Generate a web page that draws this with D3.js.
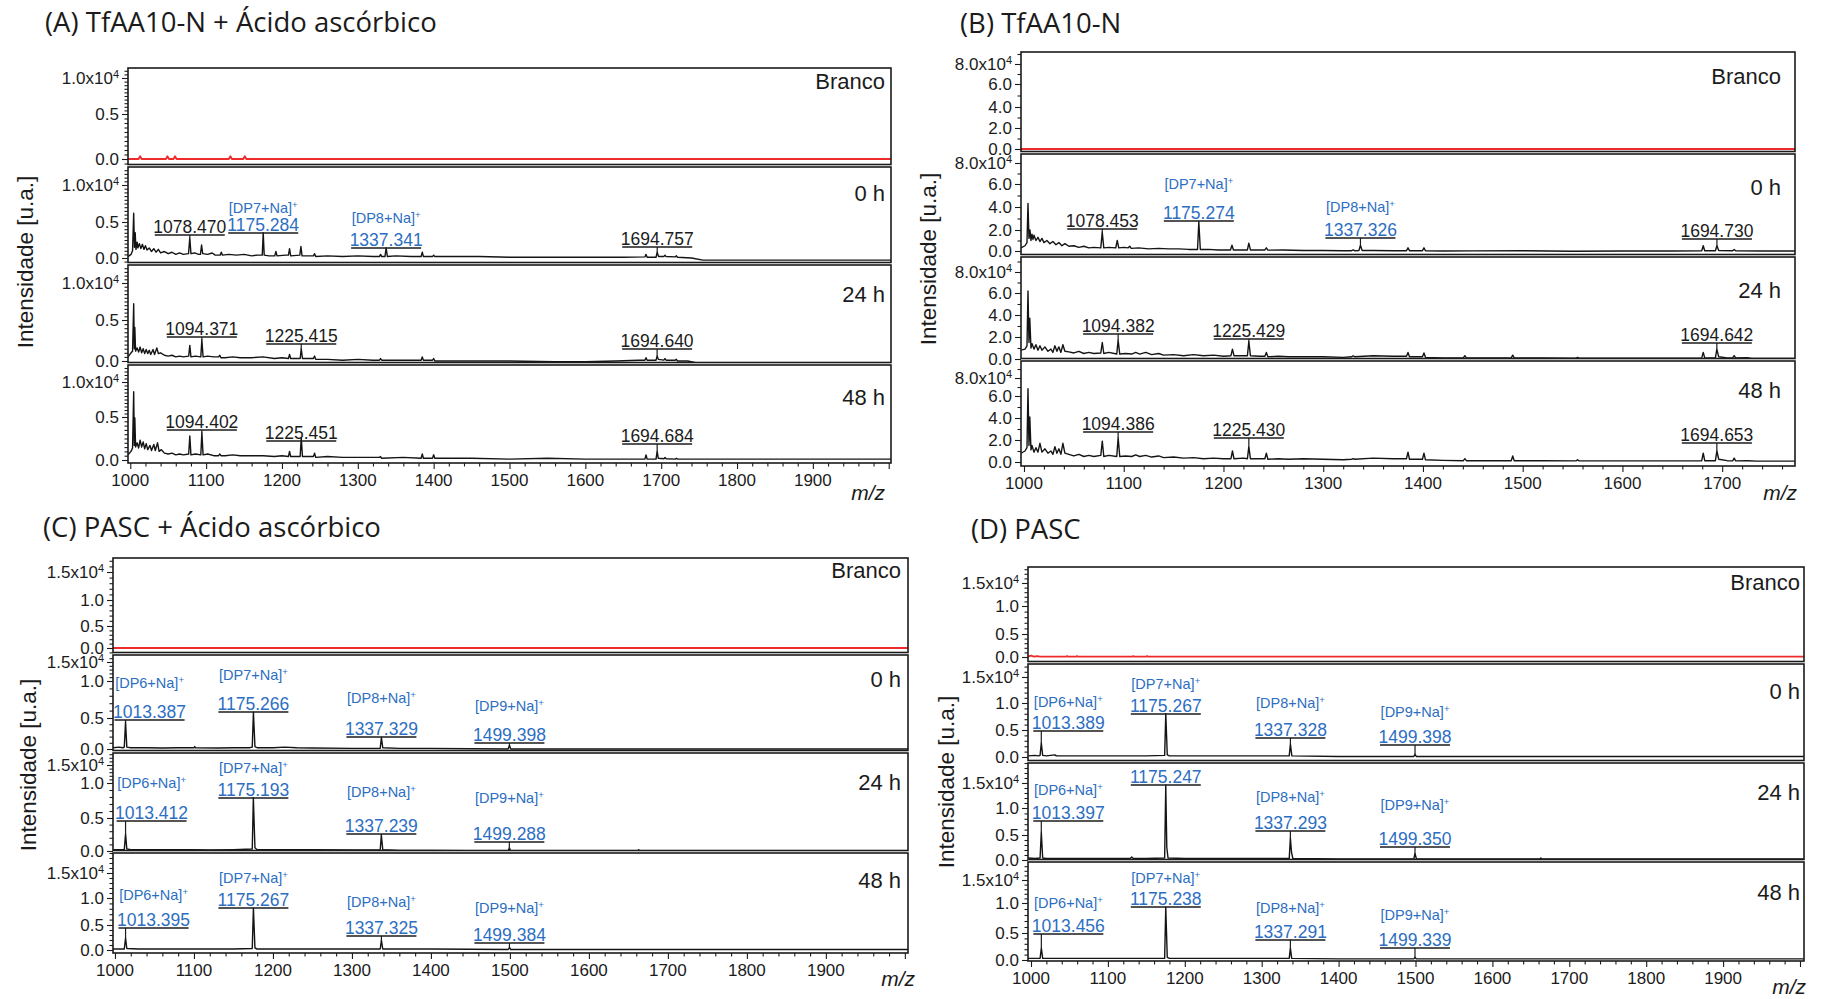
<!DOCTYPE html>
<html>
<head>
<meta charset="utf-8">
<script src="https://cdn.jsdelivr.net/npm/d3@7"></script>
<style>
  html, body { margin: 0; padding: 0; background: #ffffff; }
  svg { display: block; }
</style>
</head>
<body>
<svg id="fig" width="1823" height="999"></svg>
<script>
// ---------------------------------------------------------------
// Data: MALDI-TOF spectra (m/z, intensity in units of 10^4)
// ---------------------------------------------------------------
const sampleNames = ["Branco", "0 h", "24 h", "48 h"];

const titleA = "(A) TfAA10-N + Ácido ascórbico";
const titleB = "(B) TfAA10-N";
const titleC = "(C) PASC + Ácido ascórbico";
const titleD = "(D) PASC";

const yAxisTitle = "Intensidade [u.a.]";
const xAxisTitle = "m/z";

// tick values / tick texts
const xTicksWide = [1000, 1100, 1200, 1300, 1400, 1500, 1600, 1700, 1800, 1900, 2000];
const xTicksNarrow = [1000, 1100, 1200, 1300, 1400, 1500, 1600, 1700];
const yTicksA = [0, 0.5, 1.0];
const yTickTextA = ["0.0", "0.5", "1.0x10"];
const yTicksB = [0, 2, 4, 6, 8];
const yTickTextB = ["0.0", "2.0", "4.0", "6.0", "8.0x10"];
const yTicksCD = [0, 0.5, 1.0, 1.5];
const yTickTextCD = ["0.0", "0.5", "1.0", "1.5x10"];
const yExponent = "4";

// ---- (A) TfAA10-N + ascorbic acid
const specA_branco = [[997,0],[1011,0],[1013,0.03],[1015,0],[1047,0],[1049,0.03],[1051,0],[1057,0],[1059,0.03],[1061,0],[1130,0],[1132,0.03],[1134,0],[1149,0],[1151,0.03],[1153,0],[2003,0]];
const specA_0h = [[997,0.02],[1001,0.05],[1003,0.1],[1004.5,0.62],[1005.5,0.15],[1006.5,0.35],[1007.5,0.12],[1009,0.22],[1010,0.14],[1012,0.2],[1014,0.13],[1016,0.19],[1018,0.12],[1020,0.17],[1022,0.11],[1025,0.14],[1028,0.09],[1031,0.13],[1034,0.08],[1037,0.12],[1040,0.07],[1045,0.09],[1050,0.06],[1055,0.08],[1060,0.05],[1065,0.07],[1070,0.05],[1076.8,0.06],[1078.470,0.28],[1080,0.06],[1085,0.07],[1090,0.05],[1092.5,0.05],[1094,0.18],[1095.5,0.06],[1102,0.05],[1108,0.07],[1112,0.04],[1118.5,0.04],[1120,0.08],[1121.5,0.04],[1130,0.05],[1140,0.04],[1150,0.05],[1160,0.03],[1168,0.04],[1174,0.04],[1175.284,0.35],[1176.6,0.04],[1183,0.03],[1190.5,0.03],[1192,0.09],[1193.5,0.03],[1205,0.04],[1208.5,0.04],[1210,0.13],[1211.5,0.03],[1223.5,0.04],[1225,0.16],[1226.5,0.03],[1235,0.03],[1241.5,0.03],[1243,0.06],[1244.5,0.02],[1260,0.03],[1280,0.02],[1300,0.03],[1320,0.02],[1328.5,0.02],[1330,0.05],[1331.5,0.02],[1335.8,0.02],[1337.341,0.14],[1339,0.02],[1350,0.03],[1370,0.02],[1383.5,0.02],[1385,0.08],[1386.5,0.02],[1398.5,0.02],[1400,0.04],[1401.5,0.02],[1430,0.02],[1460,0.02],[1500,0.01],[1550,0.01],[1600,0.01],[1650,0.01],[1678.5,0.015],[1680,0.05],[1681.5,0.01],[1693.2,0.01],[1694.757,0.08],[1696.5,0.02],[1703.5,0.02],[1705,0.04],[1706.5,0.02],[1718.5,0.015],[1720,0.03],[1721.5,0.01],[1740,0.0],[1755,-0.03],[2003,-0.03]];
const specA_24h = [[997,0.05],[1001,0.1],[1003,0.12],[1004.5,0.72],[1005.3,0.15],[1006,0.41],[1007,0.12],[1009,0.16],[1011,0.11],[1013,0.17],[1015,0.1],[1017,0.15],[1019,0.09],[1021,0.14],[1023,0.09],[1025,0.13],[1027,0.08],[1030,0.14],[1032,0.08],[1035,0.16],[1037,0.09],[1040,0.1],[1045,0.07],[1050,0.06],[1055,0.07],[1060,0.05],[1065,0.06],[1070,0.05],[1077,0.06],[1078.5,0.19],[1080,0.05],[1086,0.06],[1093,0.05],[1094.371,0.26],[1096,0.05],[1102,0.06],[1110,0.05],[1116.5,0.05],[1118,0.07],[1119.5,0.04],[1125,0.04],[1135,0.05],[1145,0.04],[1160,0.04],[1175,0.05],[1190,0.03],[1200,0.04],[1208.5,0.03],[1210,0.08],[1211.5,0.03],[1224,0.03],[1225.415,0.15],[1227,0.03],[1238,0.03],[1241.5,0.03],[1243,0.06],[1244.5,0.02],[1260,0.02],[1280,0.01],[1300,0.02],[1320,0.01],[1328.5,0.01],[1330,0.03],[1331.5,0.01],[1360,0.01],[1383.5,0.01],[1385,0.05],[1386.5,0.01],[1398.5,0.01],[1400,0.03],[1401.5,0.0],[1450,0.0],[1500,0.0],[1560,-0.01],[1600,-0.01],[1640,0.0],[1670,0.01],[1678.5,0.01],[1680,0.04],[1681.5,0.01],[1693.2,0.01],[1694.640,0.06],[1696.2,0.02],[1703.5,0.01],[1705,0.03],[1706.5,0.01],[1718.5,0.01],[1720,0.02],[1721.5,0.0],[1735,0.0],[1750,-0.03],[2003,-0.03]];
const specA_48h = [[997,0.06],[1001,0.1],[1003,0.14],[1004.5,0.86],[1005.3,0.17],[1006,0.49],[1007,0.15],[1009,0.2],[1011,0.14],[1013,0.23],[1015,0.15],[1017,0.21],[1019,0.13],[1021,0.19],[1023,0.12],[1026,0.17],[1028,0.11],[1031,0.18],[1033,0.11],[1036,0.2],[1038,0.1],[1041,0.12],[1045,0.08],[1050,0.07],[1055,0.08],[1060,0.06],[1065,0.07],[1070,0.06],[1077,0.07],[1078.5,0.28],[1080,0.06],[1086,0.07],[1093,0.06],[1094.402,0.32],[1096,0.06],[1102,0.07],[1110,0.05],[1116.5,0.05],[1118,0.07],[1119.5,0.05],[1125,0.05],[1135,0.06],[1145,0.05],[1160,0.05],[1175,0.05],[1190,0.04],[1200,0.05],[1208.5,0.04],[1210,0.1],[1211.5,0.04],[1224,0.04],[1225.451,0.26],[1227,0.04],[1238,0.04],[1241.5,0.04],[1243,0.08],[1244.5,0.03],[1260,0.04],[1280,0.03],[1300,0.03],[1320,0.03],[1328.5,0.03],[1330,0.04],[1331.5,0.02],[1360,0.03],[1383.5,0.02],[1385,0.07],[1386.5,0.02],[1398.5,0.02],[1400,0.06],[1401.5,0.02],[1450,0.02],[1500,0.01],[1550,0.02],[1600,0.01],[1650,0.01],[1678.5,0.01],[1680,0.06],[1681.5,0.01],[1693.2,0.01],[1694.684,0.1],[1696.2,0.02],[1703.5,0.015],[1705,0.03],[1706.5,0.015],[1718.5,0.01],[1720,0.02],[1721.5,0.01],[1800,0.01],[1900,0.01],[2003,0.01]];

// ---- (B) TfAA10-N
const specB_branco = [[997,0],[1773,0]];
const specB_0h = [[997,0.3],[1001,0.5],[1003,0.8],[1004,4.3],[1005,1.2],[1006,2.0],[1007,1.0],[1008,1.6],[1009,1.1],[1010,1.5],[1012,1.0],[1014,1.3],[1016,0.9],[1018,1.2],[1020,0.8],[1023,1.0],[1026,0.7],[1029,0.9],[1032,0.6],[1035,0.8],[1038,0.5],[1041,0.7],[1045,0.45],[1050,0.5],[1055,0.35],[1060,0.45],[1065,0.3],[1070,0.35],[1077,0.3],[1078.453,1.8],[1080,0.3],[1085,0.35],[1092,0.3],[1093.5,1.0],[1095,0.3],[1100,0.35],[1104.5,0.3],[1106,0.45],[1107.5,0.25],[1115,0.3],[1125,0.2],[1135,0.25],[1145,0.2],[1155,0.2],[1165,0.15],[1174,0.15],[1175.274,2.7],[1176.8,0.15],[1185,0.15],[1195,0.1],[1207,0.1],[1208.5,0.55],[1210,0.1],[1224,0.1],[1225.4,0.75],[1227,0.1],[1241.5,0.1],[1243,0.3],[1244.5,0.08],[1260,0.1],[1280,0.05],[1300,0.05],[1320,0.03],[1328.5,0.03],[1330,0.1],[1331.5,0.03],[1335.8,0.05],[1337.326,0.55],[1339,0.05],[1350,0.05],[1370,0.03],[1383.5,0.03],[1385,0.3],[1386.5,0.03],[1399.5,0.03],[1401,0.3],[1402.5,0.02],[1420,0.0],[1450,0.01],[1500,0.02],[1550,-0.02],[1600,0.0],[1650,0.0],[1679.5,0.02],[1681,0.5],[1682.5,0.02],[1693.2,0.02],[1694.730,0.5],[1696.5,0.05],[1710.5,0.02],[1712,0.15],[1713.5,0.02],[1740,0.0],[1773,0.0]];
const specB_24h = [[997,0.8],[1001,0.9],[1003,1.2],[1004,6.2],[1005,1.5],[1005.8,3.7],[1007,1.0],[1008,1.4],[1010,0.9],[1012,1.3],[1014,0.8],[1016,1.2],[1018,0.8],[1021,1.1],[1024,0.7],[1027,0.9],[1029,0.6],[1031,1.2],[1033,0.7],[1035,1.1],[1037,0.6],[1039,1.3],[1041,0.7],[1045,0.65],[1050,0.55],[1055,0.7],[1060,0.5],[1065,0.6],[1070,0.5],[1077,0.55],[1078.5,1.5],[1080,0.5],[1085,0.6],[1093,0.45],[1094.382,1.7],[1096,0.45],[1102,0.5],[1108,0.45],[1112,0.6],[1116,0.45],[1122,0.6],[1128,0.4],[1135,0.5],[1140,0.35],[1150,0.4],[1160,0.3],[1170,0.4],[1180,0.3],[1190,0.35],[1200,0.25],[1207.5,0.3],[1209,0.9],[1210.5,0.3],[1220,0.3],[1224,0.3],[1225.429,1.6],[1227,0.3],[1236,0.25],[1241.5,0.25],[1243,0.6],[1244.5,0.2],[1255,0.25],[1265,0.2],[1280,0.2],[1300,0.2],[1320,0.15],[1328.5,0.2],[1330,0.3],[1331.5,0.2],[1350,0.3],[1370,0.25],[1383.5,0.25],[1385,0.6],[1386.5,0.2],[1399.5,0.2],[1401,0.55],[1402.5,0.15],[1420,0.1],[1440.5,0.1],[1442,0.3],[1443.5,0.1],[1470,0.1],[1488.5,0.1],[1490,0.35],[1491.5,0.1],[1520,0.1],[1553.5,0.08],[1555,0.15],[1556.5,0.08],[1600,0.08],[1650,0.08],[1679.5,0.1],[1681,0.6],[1682.5,0.1],[1693.2,0.1],[1694.642,0.9],[1696.5,0.2],[1705,0.1],[1710.5,0.1],[1712,0.3],[1713.5,0.1],[1725,0.12],[1730,0.05],[1773,0.05]];
const specB_48h = [[997,0.8],[1001,1.0],[1003,1.3],[1004,6.8],[1005,1.5],[1005.8,4.1],[1007,1.1],[1008,1.5],[1010,0.9],[1012,1.3],[1014,0.9],[1016,1.7],[1018,0.9],[1021,1.2],[1024,0.8],[1027,1.0],[1029,0.7],[1031,1.4],[1033,0.8],[1035,1.2],[1037,0.7],[1039,1.7],[1041,0.8],[1045,0.7],[1050,0.55],[1055,0.7],[1060,0.5],[1065,0.6],[1070,0.5],[1077,0.6],[1078.5,1.9],[1080,0.5],[1085,0.6],[1093,0.5],[1094.386,2.2],[1096,0.5],[1102,0.55],[1108,0.5],[1112,0.65],[1116,0.5],[1122,0.6],[1128,0.45],[1135,0.55],[1140,0.4],[1150,0.45],[1160,0.35],[1170,0.4],[1180,0.3],[1190,0.35],[1200,0.3],[1207.5,0.3],[1209,1.0],[1210.5,0.3],[1220,0.35],[1224,0.3],[1225.430,1.4],[1227,0.3],[1236,0.3],[1241.5,0.3],[1243,0.8],[1244.5,0.25],[1255,0.3],[1265,0.25],[1280,0.3],[1300,0.25],[1320,0.2],[1328.5,0.25],[1330,0.3],[1331.5,0.25],[1350,0.35],[1370,0.3],[1383.5,0.3],[1385,0.9],[1386.5,0.25],[1399.5,0.25],[1401,0.8],[1402.5,0.2],[1420,0.15],[1440.5,0.12],[1442,0.3],[1443.5,0.12],[1470,0.12],[1488.5,0.12],[1490,0.55],[1491.5,0.12],[1520,0.12],[1553.5,0.1],[1555,0.2],[1556.5,0.1],[1600,0.1],[1650,0.1],[1679.5,0.12],[1681,0.8],[1682.5,0.12],[1693.2,0.12],[1694.653,1.0],[1696.5,0.25],[1705,0.12],[1710.5,0.1],[1712,0.35],[1713.5,0.1],[1725,0.12],[1735,0.08],[1773,0.08]];

// ---- (C) PASC + ascorbic acid
const specC_branco = [[997,0],[2004,0]];
const specC_0h = [[997,0.02],[1005,0.03],[1010,0.02],[1011.8,0.03],[1013.387,0.44],[1015,0.03],[1020,0.02],[1040,0.02],[1060,0.015],[1080,0.02],[1100,0.02],[1101,0.04],[1102,0.02],[1130,0.015],[1150,0.02],[1170,0.02],[1173.8,0.03],[1175.266,0.58],[1177.2,0.04],[1180,0.02],[1200,0.02],[1215,0.03],[1230,0.02],[1250,0.015],[1300,0.01],[1335.8,0.01],[1337.329,0.19],[1339,0.02],[1360,0.01],[1400,0.01],[1497.8,0.0],[1499.398,0.06],[1501,0.0],[1600,0.0],[2004,0.0]];
const specC_24h = [[997,0.02],[1005,0.02],[1011.8,0.02],[1013.412,0.26],[1015,0.03],[1020,0.02],[1050,0.02],[1100,0.02],[1120,0.015],[1150,0.02],[1173.8,0.03],[1175.193,0.79],[1177.2,0.05],[1180,0.02],[1200,0.02],[1250,0.02],[1300,0.015],[1335.8,0.02],[1337.239,0.24],[1339,0.02],[1360,0.01],[1400,0.01],[1497.8,0.0],[1499.288,0.05],[1501,0.0],[1662,0.0],[1663,0.02],[1664,0.0],[2004,0.0]];
const specC_48h = [[997,0.02],[1011.8,0.02],[1013.395,0.24],[1015,0.03],[1030,0.02],[1070,0.02],[1100,0.02],[1150,0.02],[1173.8,0.03],[1175.267,0.81],[1177.2,0.04],[1180,0.02],[1250,0.02],[1300,0.02],[1335.8,0.02],[1337.325,0.2],[1339,0.02],[1400,0.02],[1497.8,0.01],[1499.384,0.05],[1501,0.01],[1560,0.01],[2004,0.01]];

// ---- (D) PASC
const specD_branco = [[996,0.01],[1000,0.03],[1004,0.01],[1008,0.02],[1012,0.01],[1046,0.01],[1047,0.02],[1048,0.01],[1059,0.01],[1060,0.02],[1061,0.01],[1132,0.01],[1133,0.02],[1134,0.01],[1150,0.01],[1151,0.02],[1152,0.01],[2005,0.01]];
const specD_0h = [[996,0.02],[1005,0.03],[1010,0.02],[1011.8,0.03],[1013.389,0.26],[1015.2,0.03],[1020,0.02],[1031,0.04],[1033,0.02],[1050,0.02],[1100,0.02],[1150,0.02],[1173.8,0.03],[1175.267,0.8],[1177.2,0.04],[1180,0.02],[1250,0.02],[1335.8,0.02],[1337.328,0.24],[1339.2,0.02],[1400,0.01],[1497.8,0.01],[1499.398,0.05],[1501,0.01],[2005,0.01]];
const specD_24h = [[996,0.04],[1005,0.03],[1011.8,0.04],[1013.397,0.55],[1015.2,0.04],[1020,0.03],[1050,0.03],[1100,0.03],[1129,0.03],[1131,0.06],[1133,0.03],[1150,0.03],[1173.8,0.04],[1175.247,1.46],[1176.6,0.25],[1178.2,0.04],[1200,0.03],[1250,0.03],[1335.8,0.03],[1337.293,0.44],[1338.8,0.15],[1340.5,0.03],[1400,0.02],[1497.8,0.02],[1499.350,0.13],[1501.2,0.02],[1662,0.02],[1663,0.04],[1664,0.02],[2005,0.02]];
const specD_48h = [[996,0.03],[1005,0.03],[1011.8,0.03],[1013.456,0.22],[1015.2,0.03],[1050,0.03],[1100,0.03],[1150,0.03],[1173.8,0.03],[1175.238,0.93],[1177.2,0.05],[1180,0.03],[1250,0.03],[1335.8,0.03],[1337.291,0.22],[1339,0.03],[1400,0.02],[1497.8,0.02],[1499.339,0.05],[1501,0.02],[2005,0.02]];

// Peak annotations: [m/z, ion label]; ion label null -> plain (black) peak,
// "" -> oligosaccharide peak without ion label
const annA_0h = [[1078.470, null], [1175.284, "[DP7+Na]"], [1337.341, "[DP8+Na]"], [1694.757, null]];
const annA_24h = [[1094.371, null], [1225.415, null], [1694.640, null]];
const annA_48h = [[1094.402, null], [1225.451, null], [1694.684, null]];
const annB_0h = [[1078.453, null], [1175.274, "[DP7+Na]"], [1337.326, "[DP8+Na]"], [1694.730, null]];
const annB_24h = [[1094.382, null], [1225.429, null], [1694.642, null]];
const annB_48h = [[1094.386, null], [1225.430, null], [1694.653, null]];
const annC_0h = [[1013.387, "[DP6+Na]"], [1175.266, "[DP7+Na]"], [1337.329, "[DP8+Na]"], [1499.398, "[DP9+Na]"]];
const annC_24h = [[1013.412, "[DP6+Na]"], [1175.193, "[DP7+Na]"], [1337.239, "[DP8+Na]"], [1499.288, "[DP9+Na]"]];
const annC_48h = [[1013.395, "[DP6+Na]"], [1175.267, "[DP7+Na]"], [1337.325, "[DP8+Na]"], [1499.384, "[DP9+Na]"]];
const annD_0h = [[1013.389, "[DP6+Na]"], [1175.267, "[DP7+Na]"], [1337.328, "[DP8+Na]"], [1499.398, "[DP9+Na]"]];
const annD_24h = [[1013.397, "[DP6+Na]"], [1175.247, ""], [1337.293, "[DP8+Na]"], [1499.350, "[DP9+Na]"]];
const annD_48h = [[1013.456, "[DP6+Na]"], [1175.238, "[DP7+Na]"], [1337.291, "[DP8+Na]"], [1499.339, "[DP9+Na]"]];

// ---------------------------------------------------------------
// Layout (pixel positions of the stacked panels)
// ---------------------------------------------------------------
const panels = [
  {
    title: titleA, titlePos: [45, 32],
    x0: 128, x1: 891, xDomain: [997, 2003], xTicks: xTicksWide, xMinor: 20,
    tops: [68, 167, 265, 365, 463],
    yTicks: yTicksA, yTickText: yTickTextA, yMinor: 0.05,
    yPix: [[159, 114, 78], [258, 222, 185], [361, 320, 283], [460, 417, 382]],
    spectra: [specA_branco, specA_0h, specA_24h, specA_48h],
    ann: [[], annA_0h, annA_24h, annA_48h],
    annLayout: [[], [[0, 68], [0, 66, 41], [0, 81, 51], [0, 80]],
                    [[0, 72], [0, 79], [0, 84]],
                    [[0, 65], [0, 76], [0, 79]]],
    nameRight: 885, nameDy: [13, 26, 29, 32],
    yTitlePos: [25, 262], mzPos: [885, 500]
  },
  {
    title: titleB, titlePos: [960, 33],
    x0: 1021, x1: 1795, xDomain: [997, 1773], xTicks: xTicksNarrow, xMinor: 20,
    tops: [52, 154, 257, 361, 466],
    yTicks: yTicksB, yTickText: yTickTextB, yMinor: 1,
    yPix: [[149, 128, 107, 84, 64], [251, 230, 207, 184, 163], [359, 337, 315, 293, 272], [462, 440, 418, 396, 378]],
    spectra: [specB_branco, specB_0h, specB_24h, specB_48h],
    ann: [[], annB_0h, annB_24h, annB_48h],
    annLayout: [[], [[0, 75], [0, 67, 30], [0, 84, 53], [0, 85]],
                    [[0, 77], [0, 82], [0, 86]],
                    [[0, 71], [0, 77], [0, 82]]],
    nameRight: 1781, nameDy: [24, 33, 33, 29],
    yTitlePos: [928, 259], mzPos: [1797, 500]
  },
  {
    title: titleC, titlePos: [43, 537],
    x0: 113, x1: 908, xDomain: [997.5, 2004], xTicks: xTicksWide, xMinor: 20,
    tops: [558, 655, 753, 853, 953],
    yTicks: yTicksCD, yTickText: yTickTextCD, yMinor: 0.1,
    yPix: [[648, 626, 600, 572], [749, 718, 681, 662], [851, 818, 783, 765], [950, 925, 898, 873]],
    spectra: [specC_branco, specC_0h, specC_24h, specC_48h],
    ann: [[], annC_0h, annC_24h, annC_48h],
    annLayout: [[], [[24, 65, 28], [0, 57, 20], [0, 82, 43], [0, 88, 51]],
                    [[26, 68, 30], [0, 45, 15], [0, 81, 39], [0, 89, 45]],
                    [[28, 75, 42], [0, 55, 25], [0, 83, 49], [0, 90, 55]]],
    nameRight: 901, nameDy: [12, 24, 29, 27],
    yTitlePos: [28, 765], mzPos: [915, 986]
  },
  {
    title: titleD, titlePos: [971, 539],
    x0: 1028, x1: 1804, xDomain: [996.1, 2005.2], xTicks: xTicksWide, xMinor: 20,
    tops: [567, 664, 763, 862, 961],
    yTicks: yTicksCD, yTickText: yTickTextCD, yMinor: 0.1,
    yPix: [[657, 634, 606, 583], [757, 730, 703, 677], [860, 835, 808, 783], [960, 933, 903, 880]],
    spectra: [specD_branco, specD_0h, specD_24h, specD_48h],
    ann: [[], annD_0h, annD_24h, annD_48h],
    annLayout: [[], [[27, 67, 38], [0, 50, 20], [0, 74, 39], [0, 81, 48]],
                    [[27, 58, 27], [0, 22], [0, 68, 34], [0, 84, 42]],
                    [[27, 72, 41], [0, 45, 16], [0, 78, 46], [0, 86, 53]]],
    nameRight: 1800, nameDy: [15, 27, 29, 30],
    yTitlePos: [946, 782], mzPos: [1806, 994]
  }
];

// ---------------------------------------------------------------
// Drawing
// ---------------------------------------------------------------
const svg = d3.select("#fig");
const SANS = "'Liberation Sans', Arial, sans-serif";
const TITLE_FONT = "'Open Sans', 'Noto Sans', sans-serif";
const INK = "#1b1b1b";
const BLUE = "#2c6ec2";
const RED = "#ee2a2a";
const GAP = 2.5;

let clipCount = 0;

panels.forEach(p => {
  const g = svg.append("g");

  g.append("text")
    .attr("x", p.titlePos[0]).attr("y", p.titlePos[1])
    .attr("font-family", TITLE_FONT).attr("font-size", 27.5)
    .attr("fill", INK)
    .text(p.title);

  const x = d3.scaleLinear().domain(p.xDomain).range([p.x0, p.x1]);

  p.spectra.forEach((spec, i) => {
    const top = p.tops[i];
    const bottom = i < 3 ? p.tops[i + 1] - GAP : p.tops[i + 1];
    const y = d3.scaleLinear().domain(p.yTicks).range(p.yPix[i]);
    const sg = g.append("g");

    // clip region for the trace
    const cid = "clip" + (clipCount++);
    sg.append("clipPath").attr("id", cid)
      .append("rect")
      .attr("x", p.x0).attr("y", top)
      .attr("width", p.x1 - p.x0).attr("height", bottom - top);

    // spectrum trace
    const line = d3.line().x(d => x(d[0])).y(d => y(d[1]));
    sg.append("path")
      .datum(spec)
      .attr("clip-path", `url(#${cid})`)
      .attr("d", line)
      .attr("fill", "none")
      .attr("stroke", i === 0 ? RED : "#141414")
      .attr("stroke-width", i === 0 ? 1.8 : 1.4)
      .attr("stroke-linejoin", "round");

    // y axis: major ticks
    const gy = sg.append("g").attr("transform", `translate(${p.x0},0)`);
    gy.call(d3.axisLeft(y).tickValues(p.yTicks).tickSize(6).tickFormat(""));
    // y axis: minor ticks
    const vLo = y.invert(bottom), vHi = y.invert(top);
    const minor = [];
    for (let k = Math.ceil(vLo / p.yMinor - 1e-6); k * p.yMinor <= vHi + 1e-9; k++) {
      const v = +(k * p.yMinor).toFixed(6);
      if (!p.yTicks.some(t => Math.abs(t - v) < 1e-6)) minor.push(v);
    }
    const gym = sg.append("g").attr("transform", `translate(${p.x0},0)`);
    gym.call(d3.axisLeft(y).tickValues(minor).tickSize(3.5).tickFormat(""));
    [gy, gym].forEach(a => {
      a.select(".domain").remove();
      a.selectAll(".tick line").attr("stroke", INK).attr("stroke-width", 1.1);
    });

    // y tick labels (top one carries the x10^4 factor)
    p.yTicks.forEach((v, k) => {
      const t = sg.append("text")
        .attr("x", p.x0 - 9).attr("y", y(v))
        .attr("dy", "0.36em")
        .attr("text-anchor", "end")
        .attr("font-family", SANS).attr("font-size", 17)
        .attr("fill", INK)
        .text(p.yTickText[k]);
      if (k === p.yTicks.length - 1) {
        t.append("tspan").attr("font-size", 11).attr("dy", "-0.55em").text(yExponent);
      }
    });

    // frame
    sg.append("rect")
      .attr("x", p.x0).attr("y", top)
      .attr("width", p.x1 - p.x0).attr("height", bottom - top)
      .attr("fill", "none").attr("stroke", INK).attr("stroke-width", 1.6);

    // sample name
    sg.append("text")
      .attr("x", p.nameRight).attr("y", top + p.nameDy[i])
      .attr("dy", "0.36em")
      .attr("text-anchor", "end")
      .attr("font-family", SANS).attr("font-size", 22)
      .attr("fill", INK)
      .text(sampleNames[i]);

    // peak annotations
    p.ann[i].forEach((a, k) => {
      const [mz, ion] = a;
      const lay = p.annLayout[i][k];
      const px = x(mz);
      const cx = px + lay[0];
      const by = top + lay[1];
      const near = spec.filter(d => Math.abs(d[0] - mz) < 2.5);
      const peakY = y(d3.max(near, d => d[1]));
      const isDP = ion !== null;

      sg.append("line")
        .attr("x1", px).attr("x2", px)
        .attr("y1", by).attr("y2", Math.max(by, peakY))
        .attr("stroke", INK).attr("stroke-width", 1.2);
      sg.append("line")
        .attr("x1", cx - 35).attr("x2", cx + 35)
        .attr("y1", by).attr("y2", by)
        .attr("stroke", INK).attr("stroke-width", 1.4);
      sg.append("text")
        .attr("x", cx).attr("y", by - 2.5)
        .attr("text-anchor", "middle")
        .attr("font-family", SANS).attr("font-size", 17.5)
        .attr("fill", isDP ? BLUE : INK)
        .text(mz.toFixed(3));
      if (ion) {
        const t = sg.append("text")
          .attr("x", cx).attr("y", top + lay[2])
          .attr("dy", "0.36em")
          .attr("text-anchor", "middle")
          .attr("font-family", SANS).attr("font-size", 14.5)
          .attr("fill", BLUE)
          .text(ion);
        t.append("tspan").attr("font-size", 9.5).attr("dy", "-0.6em").text("+");
      }
    });

    // x axis on the lowest spectrum
    if (i === 3) {
      const gx = sg.append("g").attr("transform", `translate(0,${bottom})`);
      gx.call(d3.axisBottom(x).tickValues(p.xTicks).tickSize(6).tickFormat(""));
      const xm = d3.range(p.xTicks[0], p.xDomain[1], p.xMinor)
        .filter(v => v >= p.xDomain[0] && v % 100 !== 0);
      const gxm = sg.append("g").attr("transform", `translate(0,${bottom})`);
      gxm.call(d3.axisBottom(x).tickValues(xm).tickSize(3.5).tickFormat(""));
      [gx, gxm].forEach(a => {
        a.select(".domain").remove();
        a.selectAll(".tick line").attr("stroke", INK).attr("stroke-width", 1.1);
      });
      p.xTicks.filter(v => v <= 1900).forEach(v => {
        sg.append("text")
          .attr("x", x(v)).attr("y", bottom + 17)
          .attr("dy", "0.36em")
          .attr("text-anchor", "middle")
          .attr("font-family", SANS).attr("font-size", 17)
          .attr("fill", INK)
          .text(v);
      });
    }
  });

  // axis titles
  g.append("text")
    .attr("transform", `translate(${p.yTitlePos[0]},${p.yTitlePos[1]}) rotate(-90)`)
    .attr("dy", "0.36em")
    .attr("text-anchor", "middle")
    .attr("font-family", SANS).attr("font-size", 22.5)
    .attr("fill", INK)
    .text(yAxisTitle);

  g.append("text")
    .attr("x", p.mzPos[0]).attr("y", p.mzPos[1])
    .attr("text-anchor", "end")
    .attr("font-family", SANS).attr("font-size", 21)
    .attr("font-style", "italic")
    .attr("fill", INK)
    .text(xAxisTitle);
});
</script>
</body>
</html>
